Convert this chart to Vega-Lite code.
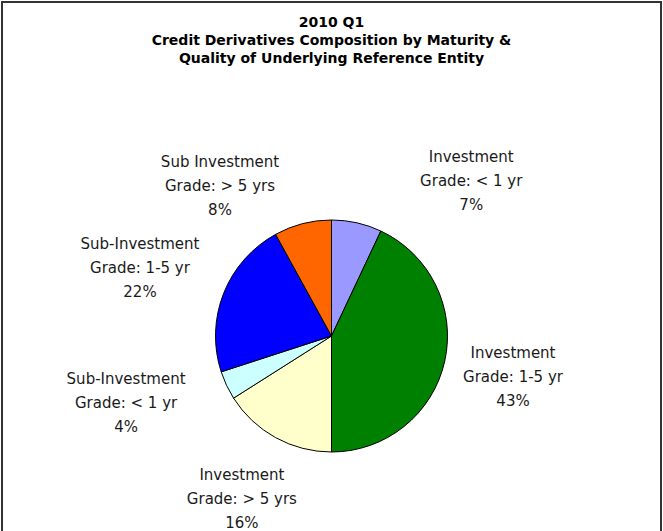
{
  "$schema": "https://vega.github.io/schema/vega-lite/v6.json",
  "width": 659,
  "height": 668,
  "padding": {"left": 2, "top": 2, "right": 2, "bottom": 0},
  "background": "white",
  "view": {"stroke": "#333333", "strokeWidth": 2},
  "title": {
    "text": ["2010 Q1", "Credit Derivatives Composition by Maturity &", "Quality of Underlying Reference Entity"],
    "font": "DejaVu Sans",
    "fontSize": 14,
    "fontWeight": "bold",
    "color": "black",
    "anchor": "middle",
    "frame": "group",
    "offset": -64,
    "lineHeight": 18
  },
  "data": {
    "values": [
      {"segment": "Investment Grade: < 1 yr", "label": "Investment\nGrade: < 1 yr\n7%", "pct": 7, "order": 1},
      {"segment": "Investment Grade: 1-5 yr", "label": "Investment\nGrade: 1-5 yr\n43%", "pct": 43, "order": 2},
      {"segment": "Investment Grade: > 5 yrs", "label": "Investment\nGrade: > 5 yrs\n16%", "pct": 16, "order": 3},
      {"segment": "Sub-Investment Grade: < 1 yr", "label": "Sub-Investment\nGrade: < 1 yr\n4%", "pct": 4, "order": 4},
      {"segment": "Sub-Investment Grade: 1-5 yr", "label": "Sub-Investment\nGrade: 1-5 yr\n22%", "pct": 22, "order": 5},
      {"segment": "Sub Investment Grade: > 5 yrs", "label": "Sub Investment\nGrade: > 5 yrs\n8%", "pct": 8, "order": 6}
    ]
  },
  "layer": [
    {
      "mark": {"type": "arc", "outerRadius": 116, "stroke": "black", "strokeWidth": 1},
      "encoding": {
        "theta": {"field": "pct", "type": "quantitative", "stack": true},
        "order": {"field": "order", "type": "quantitative"},
        "color": {
          "field": "segment",
          "type": "nominal",
          "legend": null,
          "scale": {
            "domain": ["Investment Grade: < 1 yr", "Investment Grade: 1-5 yr", "Investment Grade: > 5 yrs", "Sub-Investment Grade: < 1 yr", "Sub-Investment Grade: 1-5 yr", "Sub Investment Grade: > 5 yrs"],
            "range": ["#9999FF", "#008000", "#FFFFCC", "#CCFFFF", "#0000FF", "#FF6600"]
          }
        }
      }
    },
    {
      "mark": {"type": "text", "radius": 186, "dy": -24, "lineBreak": "\n", "font": "DejaVu Sans", "fontSize": 15, "lineHeight": 24, "fill": "#1a1a1a", "align": "center", "baseline": "middle"},
      "encoding": {
        "theta": {"field": "pct", "type": "quantitative", "stack": true},
        "order": {"field": "order", "type": "quantitative"},
        "detail": {"field": "segment", "type": "nominal"},
        "text": {"condition": {"test": "datum.order != 2 && datum.order != 3", "value": ""}, "field": "label", "type": "nominal"}
      }
    },
    {
      "mark": {"type": "text", "radius": 206, "dy": -16, "lineBreak": "\n", "font": "DejaVu Sans", "fontSize": 15, "lineHeight": 24, "fill": "#1a1a1a", "align": "center", "baseline": "middle"},
      "encoding": {
        "theta": {"field": "pct", "type": "quantitative", "stack": true},
        "order": {"field": "order", "type": "quantitative"},
        "detail": {"field": "segment", "type": "nominal"},
        "text": {"condition": {"test": "datum.order != 5", "value": ""}, "field": "label", "type": "nominal"}
      }
    },
    {
      "transform": [
        {"stack": "pct", "groupby": [], "sort": [{"field": "order", "order": "ascending"}], "as": ["t0", "t1"]},
        {"filter": "datum.order == 4"}
      ],
      "mark": {"type": "text", "radius": 216, "dy": -24, "lineBreak": "\n", "font": "DejaVu Sans", "fontSize": 15, "lineHeight": 24, "fill": "#1a1a1a", "align": "center", "baseline": "middle"},
      "encoding": {
        "theta": {"field": "t1", "type": "quantitative"},
        "text": {"field": "label", "type": "nominal"}
      }
    },
    {
      "transform": [
        {"stack": "pct", "groupby": [], "sort": [{"field": "order", "order": "ascending"}], "as": ["t0", "t1"]},
        {"filter": "datum.order == 1"}
      ],
      "mark": {"type": "text", "radius": 192, "dx": 58, "dy": -5, "lineBreak": "\n", "font": "DejaVu Sans", "fontSize": 15, "lineHeight": 24, "fill": "#1a1a1a", "align": "center", "baseline": "middle"},
      "encoding": {
        "theta": {"field": "t1", "type": "quantitative"},
        "text": {"field": "label", "type": "nominal"}
      }
    },
    {
      "transform": [
        {"stack": "pct", "groupby": [], "sort": [{"field": "order", "order": "ascending"}], "as": ["t0", "t1"]},
        {"filter": "datum.order == 6"}
      ],
      "mark": {"type": "text", "radius": 192, "dx": -19, "dy": -6, "lineBreak": "\n", "font": "DejaVu Sans", "fontSize": 15, "lineHeight": 24, "fill": "#1a1a1a", "align": "center", "baseline": "middle"},
      "encoding": {
        "theta": {"field": "t0", "type": "quantitative"},
        "text": {"field": "label", "type": "nominal"}
      }
    }
  ]
}
